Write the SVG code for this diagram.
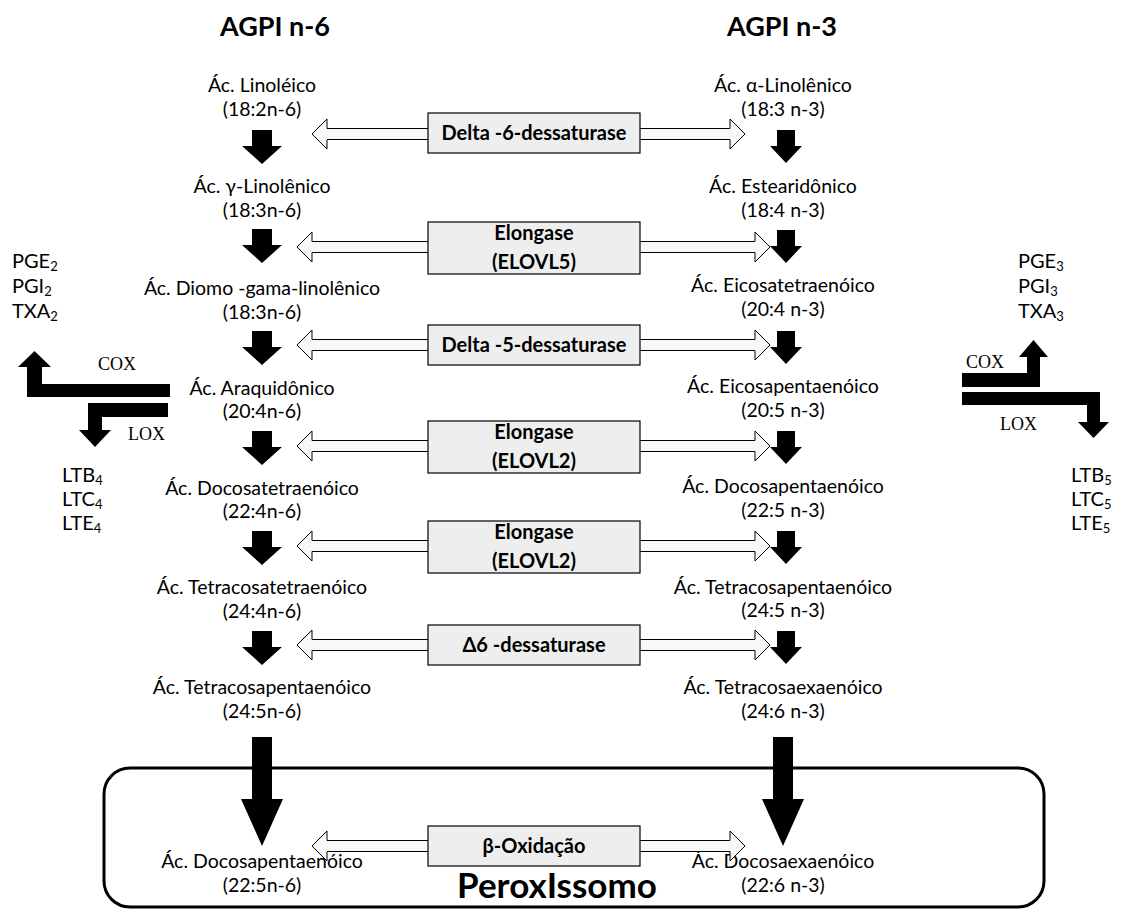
<svg xmlns="http://www.w3.org/2000/svg" width="1126" height="909" viewBox="0 0 1126 909">
<style>
.t{font-family:Lato,"Liberation Sans",sans-serif;font-size:19.5px;fill:#000;text-anchor:middle}
.ttl{font-family:Lato,"Liberation Sans",sans-serif;font-size:27px;font-weight:bold;text-anchor:middle}
.b{font-family:Lato,"Liberation Sans",sans-serif;font-size:20px;font-weight:bold;text-anchor:middle}
.p{font-family:Lato,"Liberation Sans",sans-serif;font-size:20px}
.s{font-size:13px}
.e{font-family:"Liberation Serif",serif;font-size:18px}
.dbl{fill:#f8f8f8;stroke:#000;stroke-width:1}
.box{fill:#eeeeee;stroke:#000;stroke-width:1.2}
.blk{fill:#000}
</style>
<defs>
<path id="dn" d="M-10,0 H10 V16 H20 L0,34 L-20,16 H-10 Z"/>
<path id="dnr" d="M-9,0 H9 V16 H16 L0,33 L-16,16 H-9 Z"/>
<path id="dnl" d="M-10,0 H10 V62 H21 L0,109 L-21,62 H-10 Z"/>
</defs>

<g id="titles">
<text class="ttl" x="275" y="36">AGPI n-6</text>
<text class="ttl" x="782" y="36">AGPI n-3</text>
</g>

<g id="peroxissomo">
<rect x="104" y="768" width="940" height="139" rx="26" fill="none" stroke="#000" stroke-width="3"/>
<text x="557" y="898" font-family="Lato,'Liberation Sans',sans-serif" font-size="35" font-weight="bold" text-anchor="middle">PeroxIssomo</text>
</g>

<g id="n6">
<g id="n6-1"><text class="t" x="262" y="92">Ác. Linoléico</text><text class="t" x="262" y="116">(18:2n-6)</text></g>
<g id="n6-2"><text class="t" x="262" y="193">Ác. γ-Linolênico</text><text class="t" x="262" y="217">(18:3n-6)</text></g>
<g id="n6-3"><text class="t" x="262" y="295">Ác. Diomo -gama-linolênico</text><text class="t" x="262" y="319">(18:3n-6)</text></g>
<g id="n6-4"><text class="t" x="262" y="395">Ác. Araquidônico</text><text class="t" x="262" y="418">(20:4n-6)</text></g>
<g id="n6-5"><text class="t" x="262" y="495">Ác. Docosatetraenóico</text><text class="t" x="262" y="518">(22:4n-6)</text></g>
<g id="n6-6"><text class="t" x="262" y="594">Ác. Tetracosatetraenóico</text><text class="t" x="262" y="618">(24:4n-6)</text></g>
<g id="n6-7"><text class="t" x="262" y="694">Ác. Tetracosapentaenóico</text><text class="t" x="262" y="718">(24:5n-6)</text></g>
<g id="n6-8"><text class="t" x="262" y="868">Ác. Docosapentaenóico</text><text class="t" x="262" y="892">(22:5n-6)</text></g>
</g>

<g id="n3">
<g id="n3-1"><text class="t" x="783" y="92">Ác. α-Linolênico</text><text class="t" x="783" y="116">(18:3 n-3)</text></g>
<g id="n3-2"><text class="t" x="783" y="193">Ác. Estearidônico</text><text class="t" x="783" y="217">(18:4 n-3)</text></g>
<g id="n3-3"><text class="t" x="783" y="292">Ác. Eicosatetraenóico</text><text class="t" x="783" y="316">(20:4 n-3)</text></g>
<g id="n3-4"><text class="t" x="783" y="393">Ác. Eicosapentaenóico</text><text class="t" x="783" y="417">(20:5 n-3)</text></g>
<g id="n3-5"><text class="t" x="783" y="493">Ác. Docosapentaenóico</text><text class="t" x="783" y="517">(22:5 n-3)</text></g>
<g id="n3-6"><text class="t" x="783" y="594">Ác. Tetracosapentaenóico</text><text class="t" x="783" y="617">(24:5 n-3)</text></g>
<g id="n3-7"><text class="t" x="783" y="694">Ác. Tetracosaexaenóico</text><text class="t" x="783" y="718">(24:6 n-3)</text></g>
<g id="n3-8"><text class="t" x="783" y="868">Ác. Docosaexaenóico</text><text class="t" x="783" y="892">(22:6 n-3)</text></g>
</g>

<g id="eicosanoids">
<g id="pg2"><text class="p" x="12" y="268">PGE<tspan class="s" dy="3">2</tspan></text><text class="p" x="12" y="293">PGI<tspan class="s" dy="3">2</tspan></text><text class="p" x="12" y="318">TXA<tspan class="s" dy="3">2</tspan></text></g>
<g id="lt4"><text class="p" x="62" y="482">LTB<tspan class="s" dy="3">4</tspan></text><text class="p" x="62" y="506">LTC<tspan class="s" dy="3">4</tspan></text><text class="p" x="62" y="530">LTE<tspan class="s" dy="3">4</tspan></text></g>
<g id="pg3"><text class="p" x="1018" y="268">PGE<tspan class="s" dy="3">3</tspan></text><text class="p" x="1018" y="293">PGI<tspan class="s" dy="3">3</tspan></text><text class="p" x="1018" y="318">TXA<tspan class="s" dy="3">3</tspan></text></g>
<g id="lt5"><text class="p" x="1071" y="482">LTB<tspan class="s" dy="3">5</tspan></text><text class="p" x="1071" y="506">LTC<tspan class="s" dy="3">5</tspan></text><text class="p" x="1071" y="530">LTE<tspan class="s" dy="3">5</tspan></text></g>
</g>

<g id="enzymes">
<g id="e1"><path class="dbl" d="M312,134 L327,119 V128.5 H730 V119 L745,134 L730,149 V139.5 H327 V149 Z"/><rect class="box" x="428" y="113" width="212" height="40"/><text class="b" x="534" y="140">Delta -6-dessaturase</text></g>
<g id="e2"><path class="dbl" d="M297,247 L312,232 V241.5 H755 V232 L770,247 L755,262 V252.5 H312 V262 Z"/><rect class="box" x="428" y="222" width="212" height="52"/><text class="b" x="534" y="240">Elongase</text><text class="b" x="534" y="269">(ELOVL5)</text></g>
<g id="e3"><path class="dbl" d="M297,345 L312,330 V339.5 H755 V330 L770,345 L755,360 V350.5 H312 V360 Z"/><rect class="box" x="428" y="325" width="212" height="40"/><text class="b" x="534" y="352">Delta -5-dessaturase</text></g>
<g id="e4"><path class="dbl" d="M297,446 L312,431 V440.5 H755 V431 L770,446 L755,461 V451.5 H312 V461 Z"/><rect class="box" x="428" y="421" width="212" height="52"/><text class="b" x="534" y="439">Elongase</text><text class="b" x="534" y="468">(ELOVL2)</text></g>
<g id="e5"><path class="dbl" d="M297,546 L312,531 V540.5 H755 V531 L770,546 L755,561 V551.5 H312 V561 Z"/><rect class="box" x="428" y="521" width="212" height="52"/><text class="b" x="534" y="539">Elongase</text><text class="b" x="534" y="568">(ELOVL2)</text></g>
<g id="e6"><path class="dbl" d="M297,645 L312,630 V639.5 H755 V630 L770,645 L755,660 V650.5 H312 V660 Z"/><rect class="box" x="428" y="625" width="212" height="40"/><text class="b" x="534" y="652">Δ6 -dessaturase</text></g>
<g id="e7"><path class="dbl" d="M312,846 L327,831 V840.5 H730 V831 L745,846 L730,861 V851.5 H327 V861 Z"/><rect class="box" x="428" y="826" width="212" height="40"/><text class="b" x="534" y="853">β-Oxidação</text></g>
</g>

<g id="connectors" class="blk">
<use href="#dn" x="262" y="130"/>
<use href="#dn" x="262" y="229"/>
<use href="#dn" x="262" y="331"/>
<use href="#dn" x="262" y="431"/>
<use href="#dn" x="262" y="531"/>
<use href="#dn" x="262" y="631"/>
<use href="#dnl" x="262" y="737"/>
<use href="#dnr" x="786" y="130"/>
<use href="#dnr" x="786" y="230"/>
<use href="#dnr" x="786" y="331"/>
<use href="#dnr" x="786" y="431"/>
<use href="#dnr" x="786" y="531"/>
<use href="#dnr" x="786" y="631"/>
<use href="#dnl" x="783" y="737"/>
<path d="M170,384 V397 H27 V367 H18 L34.5,351 L51,367 H42 V384 Z"/>
<path d="M168,403 V417 H102 V430 H111 L95,447 L79,430 H88 V403 Z"/>
<path d="M962,373 H1027 V357 H1019 L1033.5,340 L1048,357 H1040 V387 H962 Z"/>
<path d="M962,392 H1100 V422 H1109 L1093.5,438 L1078,422 H1087 V405 H962 Z"/>
<text class="e" x="98" y="370">COX</text>
<text class="e" x="128" y="440">LOX</text>
<text class="e" x="966" y="368">COX</text>
<text class="e" x="1000" y="430">LOX</text>
</g>
</svg>
